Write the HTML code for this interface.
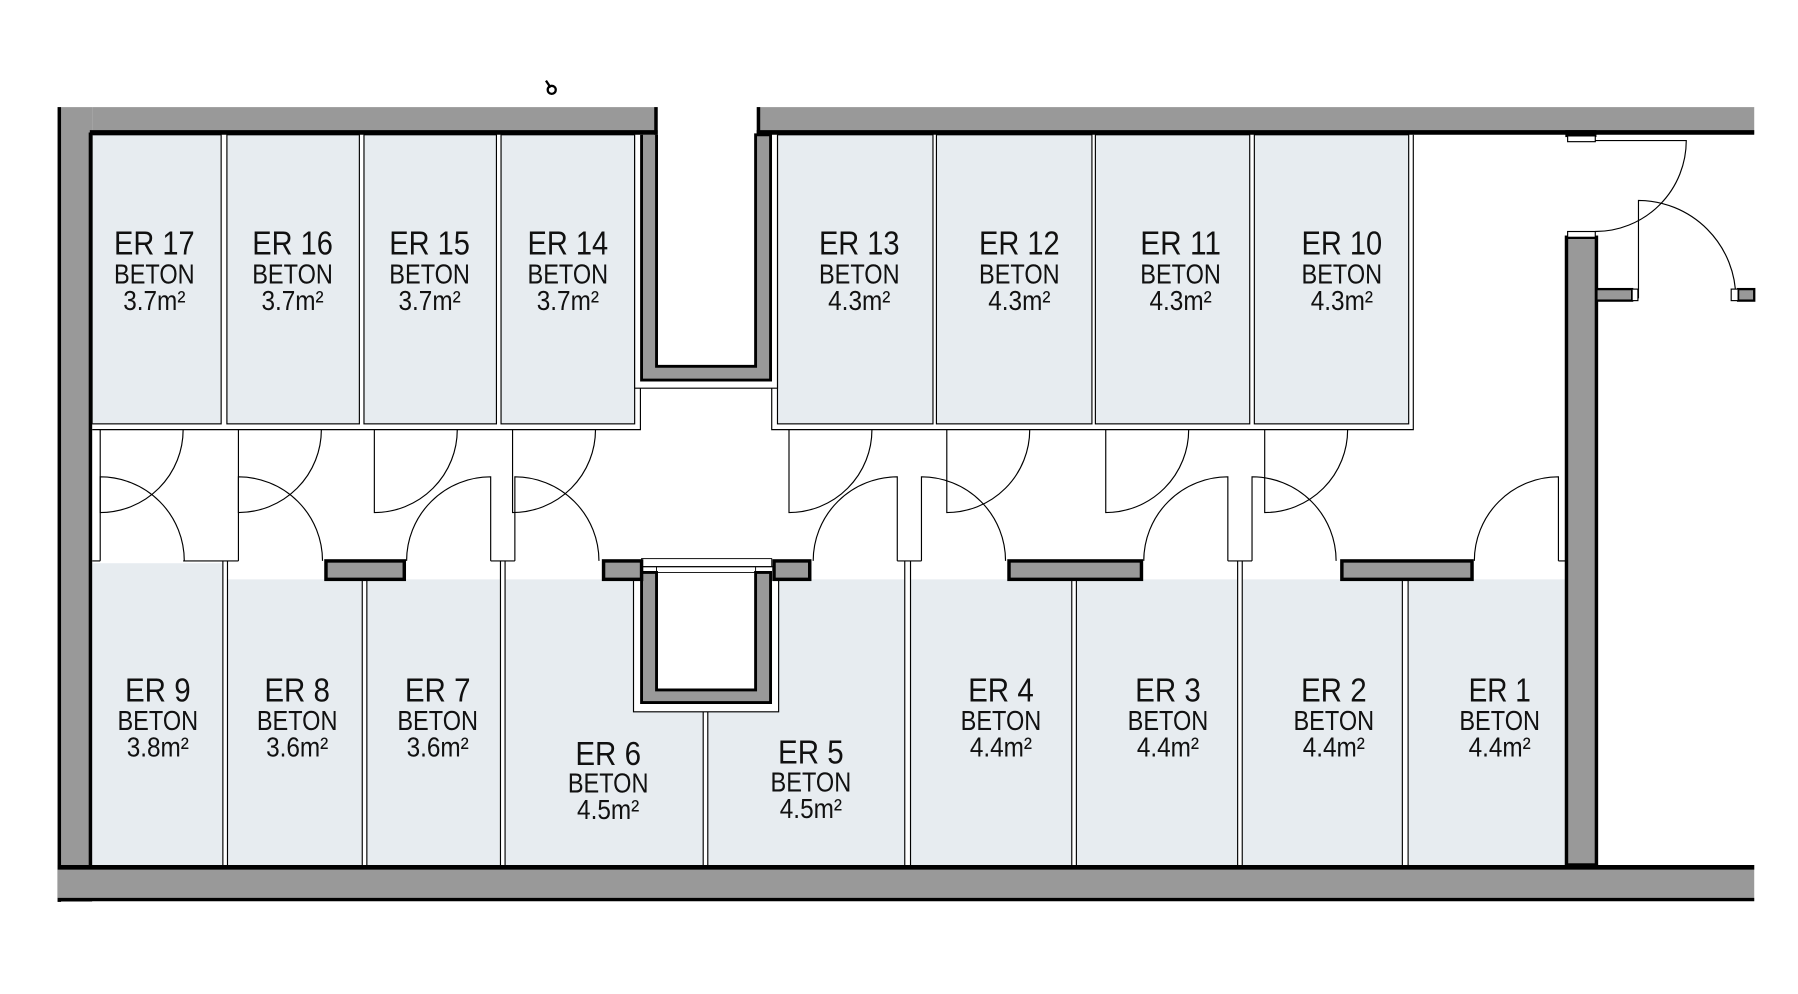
<!DOCTYPE html>
<html><head><meta charset="utf-8"><style>
html,body{margin:0;padding:0;background:#fff;}
svg{display:block;}
text{font-family:"Liberation Sans",sans-serif;fill:#111;text-anchor:middle;}
.n{font-size:29px;}
.b{font-size:24px;}
</style></head><body>
<svg width="1798" height="994" viewBox="0 0 1561 863" preserveAspectRatio="none" xmlns="http://www.w3.org/2000/svg">
<rect width="1561" height="863" fill="#fff"/>
<line x1="474" y1="70" x2="478" y2="76" stroke="#000" stroke-width="2"/>
<circle cx="479" cy="78" r="3.5" fill="none" stroke="#000" stroke-width="2"/>

<g fill="#e7ecf0" stroke="#000" stroke-width="1">
<rect x="80" y="117" width="112" height="251"/>
<rect x="197" y="117" width="115" height="251"/>
<rect x="316" y="117" width="115" height="251"/>
<rect x="435" y="117" width="116" height="251"/>
<rect x="675" y="117" width="135" height="251"/>
<rect x="813" y="117" width="135" height="251"/>
<rect x="951" y="117" width="134" height="251"/>
<rect x="1089" y="117" width="134" height="251"/>
</g>
<g stroke="#000" stroke-width="1" fill="none">
<polyline points="80,373 556,373 556,337"/>
<polyline points="1227,117 1227,373 670,373 670,337"/>
</g>

<g fill="#e7ecf0" stroke="none">
<rect x="80" y="489" width="113" height="262"/>
<rect x="198" y="503" width="116" height="248"/>
<rect x="319" y="503" width="115" height="248"/>
<rect x="439" y="503" width="171" height="248"/>
<rect x="615" y="503" width="170" height="248"/>
<rect x="791" y="503" width="139" height="248"/>
<rect x="935" y="503" width="139" height="248"/>
<rect x="1079" y="503" width="138" height="248"/>
<rect x="1223" y="503" width="137" height="248"/>
</g>
<g stroke="#000" stroke-width="1">
<line x1="193.5" y1="487" x2="193.5" y2="751"/><line x1="197.5" y1="487" x2="197.5" y2="751"/>
<line x1="314.5" y1="487" x2="314.5" y2="751"/><line x1="318.5" y1="487" x2="318.5" y2="751"/>
<line x1="434.5" y1="487" x2="434.5" y2="751"/><line x1="438.5" y1="487" x2="438.5" y2="751"/>
<line x1="610.5" y1="618" x2="610.5" y2="751"/><line x1="614.5" y1="618" x2="614.5" y2="751"/>
<line x1="785.5" y1="487" x2="785.5" y2="751"/><line x1="790.5" y1="487" x2="790.5" y2="751"/>
<line x1="930.5" y1="487" x2="930.5" y2="751"/><line x1="934.5" y1="487" x2="934.5" y2="751"/>
<line x1="1074.5" y1="487" x2="1074.5" y2="751"/><line x1="1078.5" y1="487" x2="1078.5" y2="751"/>
<line x1="1217.5" y1="487" x2="1217.5" y2="751"/><line x1="1222.5" y1="487" x2="1222.5" y2="751"/>
<line x1="80" y1="487" x2="87" y2="487"/>
<line x1="159" y1="487" x2="207" y2="487"/>
<line x1="426" y1="487" x2="447" y2="487"/>
<line x1="779" y1="487" x2="800" y2="487"/>
<line x1="1066" y1="487" x2="1087" y2="487"/>
<line x1="1353" y1="487" x2="1360" y2="487"/>
</g>

<g stroke="#000" stroke-width="1" fill="none">
<path d="M87,373 V445 A72,72 0 0 0 159,373"/>
<path d="M207,373 V445 A72,72 0 0 0 279,373"/>
<path d="M325,373 V445 A72,72 0 0 0 397,373"/>
<path d="M445,373 V445 A72,72 0 0 0 517,373"/>
<path d="M685,373 V445 A72,72 0 0 0 757,373"/>
<path d="M822,373 V445 A72,72 0 0 0 894,373"/>
<path d="M960,373 V445 A72,72 0 0 0 1032,373"/>
<path d="M1098,373 V445 A72,72 0 0 0 1170,373"/>
<path d="M87,487 V414 A73,73 0 0 1 160,487"/>
<path d="M207,487 V414 A73,73 0 0 1 280,487"/>
<path d="M426,487 V414 A73,73 0 0 0 353,487"/>
<path d="M447,487 V414 A73,73 0 0 1 520,487"/>
<path d="M779,487 V414 A73,73 0 0 0 706,487"/>
<path d="M800,487 V414 A73,73 0 0 1 873,487"/>
<path d="M1066,487 V414 A73,73 0 0 0 993,487"/>
<path d="M1087,487 V414 A73,73 0 0 1 1160,487"/>
<path d="M1353,487 V414 A73,73 0 0 0 1280,487"/>
<path d="M1385,122 H1464 A79,79 0 0 1 1385,201"/>
<path d="M1422.5,259 V174 A85,85 0 0 1 1507,259"/>
</g>

<path d="M551,117 V337 H675 V117" fill="#fff" stroke="#000" stroke-width="1"/>
<path d="M557,117 L557,330 L669,330 L669,117 L656,117 L656,318 L570,318 L570,117" fill="#999" stroke="#000" stroke-width="2.5"/>
<rect x="550" y="492" width="126" height="126" fill="#fff" stroke="#000" stroke-width="1"/>
<path d="M557,497 L557,610 L669,610 L669,497 L656,497 L656,599 L570,599 L570,497 Z" fill="#999" stroke="#000" stroke-width="2.5"/>
<g stroke="#000" stroke-width="0.8" fill="none">
<rect x="557" y="485" width="113" height="7"/>
<line x1="570" y1="497" x2="656" y2="497"/>
<line x1="570" y1="492" x2="570" y2="497"/><line x1="656" y1="492" x2="656" y2="497"/>
</g>

<rect x="50" y="93" width="30" height="690" fill="#999"/>
<line x1="51.5" y1="93" x2="51.5" y2="783" stroke="#000" stroke-width="3"/>
<line x1="78.5" y1="115" x2="78.5" y2="753" stroke="#000" stroke-width="3"/>
<rect x="80" y="93" width="491" height="23" fill="#999"/>
<line x1="78" y1="115" x2="571" y2="115" stroke="#000" stroke-width="4"/>
<line x1="569.5" y1="93" x2="569.5" y2="117" stroke="#000" stroke-width="3"/>
<rect x="657" y="93" width="866" height="23" fill="#999"/>
<line x1="657" y1="115" x2="1523" y2="115" stroke="#000" stroke-width="4"/>
<line x1="658.5" y1="93" x2="658.5" y2="117" stroke="#000" stroke-width="3"/>
<rect x="50" y="751" width="1473" height="31" fill="#999"/>
<line x1="50" y1="753" x2="1523" y2="753" stroke="#000" stroke-width="4"/>
<line x1="50" y1="781" x2="1523" y2="781" stroke="#000" stroke-width="3"/>
<rect x="1360" y="206" width="26" height="545" fill="#999" stroke="#000" stroke-width="3"/>
<rect x="1361" y="201" width="24" height="5" fill="#fff" stroke="#000" stroke-width="1"/>
<rect x="1359" y="113" width="27" height="6" fill="#000"/>
<rect x="1361" y="118" width="24" height="5" fill="#fff" stroke="#000" stroke-width="1"/>
<rect x="1386" y="251" width="31" height="10" fill="#999" stroke="#000" stroke-width="2"/>
<rect x="1417" y="251" width="5" height="10" fill="#fff" stroke="#000" stroke-width="1"/>
<rect x="1509" y="251" width="14" height="10" fill="#999" stroke="#000" stroke-width="2"/>
<rect x="1503" y="251" width="6" height="10" fill="#fff" stroke="#000" stroke-width="1"/>
<g fill="#999" stroke="#000" stroke-width="3">
<rect x="283" y="487" width="68" height="16"/>
<rect x="524" y="487" width="33" height="16"/>
<rect x="672" y="487" width="31" height="16"/>
<rect x="876" y="487" width="115" height="16"/>
<rect x="1165" y="487" width="113" height="16"/>
</g>

<g>
<text class="n" x="134" y="221" textLength="70" lengthAdjust="spacingAndGlyphs">ER 17</text>
<text class="b" x="134" y="246" textLength="70" lengthAdjust="spacingAndGlyphs">BETON</text>
<text class="b" x="134" y="269" textLength="54" lengthAdjust="spacingAndGlyphs">3.7m²</text>
<text class="n" x="254" y="221" textLength="70" lengthAdjust="spacingAndGlyphs">ER 16</text>
<text class="b" x="254" y="246" textLength="70" lengthAdjust="spacingAndGlyphs">BETON</text>
<text class="b" x="254" y="269" textLength="54" lengthAdjust="spacingAndGlyphs">3.7m²</text>
<text class="n" x="373" y="221" textLength="70" lengthAdjust="spacingAndGlyphs">ER 15</text>
<text class="b" x="373" y="246" textLength="70" lengthAdjust="spacingAndGlyphs">BETON</text>
<text class="b" x="373" y="269" textLength="54" lengthAdjust="spacingAndGlyphs">3.7m²</text>
<text class="n" x="493" y="221" textLength="70" lengthAdjust="spacingAndGlyphs">ER 14</text>
<text class="b" x="493" y="246" textLength="70" lengthAdjust="spacingAndGlyphs">BETON</text>
<text class="b" x="493" y="269" textLength="54" lengthAdjust="spacingAndGlyphs">3.7m²</text>
<text class="n" x="746" y="221" textLength="70" lengthAdjust="spacingAndGlyphs">ER 13</text>
<text class="b" x="746" y="246" textLength="70" lengthAdjust="spacingAndGlyphs">BETON</text>
<text class="b" x="746" y="269" textLength="54" lengthAdjust="spacingAndGlyphs">4.3m²</text>
<text class="n" x="885" y="221" textLength="70" lengthAdjust="spacingAndGlyphs">ER 12</text>
<text class="b" x="885" y="246" textLength="70" lengthAdjust="spacingAndGlyphs">BETON</text>
<text class="b" x="885" y="269" textLength="54" lengthAdjust="spacingAndGlyphs">4.3m²</text>
<text class="n" x="1025" y="221" textLength="70" lengthAdjust="spacingAndGlyphs">ER 11</text>
<text class="b" x="1025" y="246" textLength="70" lengthAdjust="spacingAndGlyphs">BETON</text>
<text class="b" x="1025" y="269" textLength="54" lengthAdjust="spacingAndGlyphs">4.3m²</text>
<text class="n" x="1165" y="221" textLength="70" lengthAdjust="spacingAndGlyphs">ER 10</text>
<text class="b" x="1165" y="246" textLength="70" lengthAdjust="spacingAndGlyphs">BETON</text>
<text class="b" x="1165" y="269" textLength="54" lengthAdjust="spacingAndGlyphs">4.3m²</text>
</g>
<g>
<text class="n" x="137" y="609" textLength="57" lengthAdjust="spacingAndGlyphs">ER 9</text>
<text class="b" x="137" y="634" textLength="70" lengthAdjust="spacingAndGlyphs">BETON</text>
<text class="b" x="137" y="657" textLength="54" lengthAdjust="spacingAndGlyphs">3.8m²</text>
<text class="n" x="258" y="609" textLength="57" lengthAdjust="spacingAndGlyphs">ER 8</text>
<text class="b" x="258" y="634" textLength="70" lengthAdjust="spacingAndGlyphs">BETON</text>
<text class="b" x="258" y="657" textLength="54" lengthAdjust="spacingAndGlyphs">3.6m²</text>
<text class="n" x="380" y="609" textLength="57" lengthAdjust="spacingAndGlyphs">ER 7</text>
<text class="b" x="380" y="634" textLength="70" lengthAdjust="spacingAndGlyphs">BETON</text>
<text class="b" x="380" y="657" textLength="54" lengthAdjust="spacingAndGlyphs">3.6m²</text>
<text class="n" x="528" y="664" textLength="57" lengthAdjust="spacingAndGlyphs">ER 6</text>
<text class="b" x="528" y="688" textLength="70" lengthAdjust="spacingAndGlyphs">BETON</text>
<text class="b" x="528" y="711" textLength="54" lengthAdjust="spacingAndGlyphs">4.5m²</text>
<text class="n" x="704" y="663" textLength="57" lengthAdjust="spacingAndGlyphs">ER 5</text>
<text class="b" x="704" y="687" textLength="70" lengthAdjust="spacingAndGlyphs">BETON</text>
<text class="b" x="704" y="710" textLength="54" lengthAdjust="spacingAndGlyphs">4.5m²</text>
<text class="n" x="869" y="609" textLength="57" lengthAdjust="spacingAndGlyphs">ER 4</text>
<text class="b" x="869" y="634" textLength="70" lengthAdjust="spacingAndGlyphs">BETON</text>
<text class="b" x="869" y="657" textLength="54" lengthAdjust="spacingAndGlyphs">4.4m²</text>
<text class="n" x="1014" y="609" textLength="57" lengthAdjust="spacingAndGlyphs">ER 3</text>
<text class="b" x="1014" y="634" textLength="70" lengthAdjust="spacingAndGlyphs">BETON</text>
<text class="b" x="1014" y="657" textLength="54" lengthAdjust="spacingAndGlyphs">4.4m²</text>
<text class="n" x="1158" y="609" textLength="57" lengthAdjust="spacingAndGlyphs">ER 2</text>
<text class="b" x="1158" y="634" textLength="70" lengthAdjust="spacingAndGlyphs">BETON</text>
<text class="b" x="1158" y="657" textLength="54" lengthAdjust="spacingAndGlyphs">4.4m²</text>
<text class="n" x="1302" y="609" textLength="54" lengthAdjust="spacingAndGlyphs">ER 1</text>
<text class="b" x="1302" y="634" textLength="70" lengthAdjust="spacingAndGlyphs">BETON</text>
<text class="b" x="1302" y="657" textLength="54" lengthAdjust="spacingAndGlyphs">4.4m²</text>
</g>
</svg>
</body></html>
